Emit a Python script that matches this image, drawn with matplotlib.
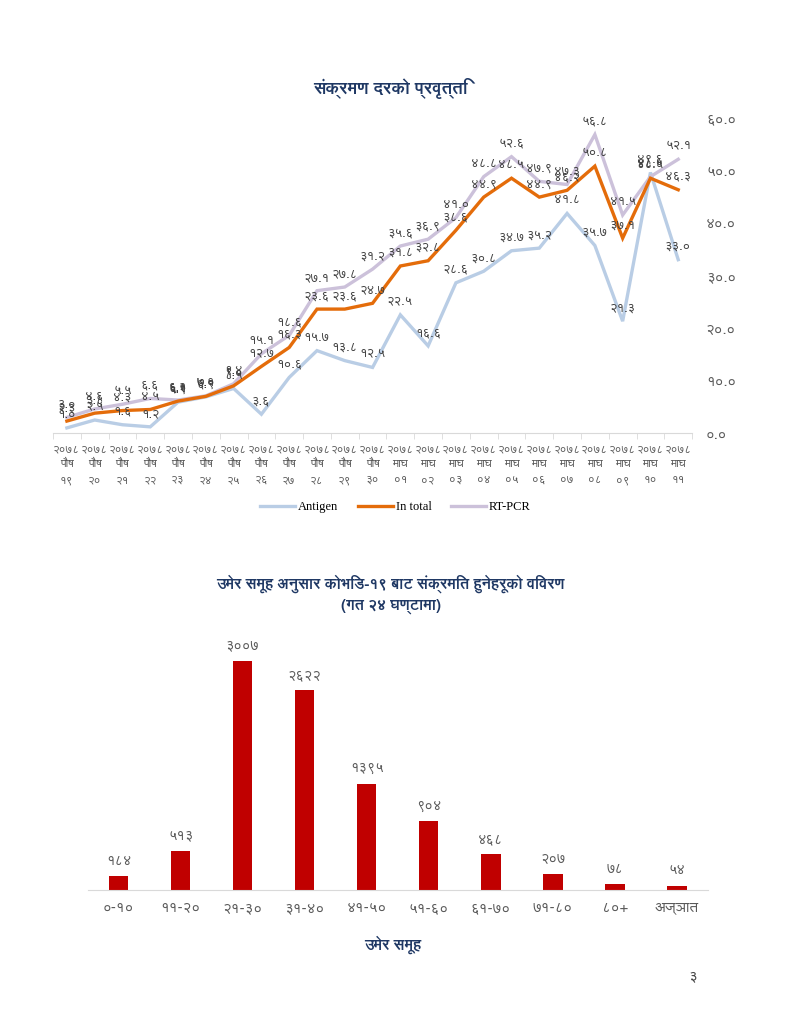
import matplotlib
matplotlib.use('Agg')
import matplotlib.pyplot as plt
from matplotlib.lines import Line2D
import numpy as np

# ---- data ----
months = ['पौष'] * 12 + ['माघ'] * 11
days = ['19', '20', '21', '22', '23', '24', '25', '26', '27', '28', '29', '30',
        '01', '02', '03', '04', '05', '06', '07', '08', '09', '10', '11']
year = '2078'

antigen = [1.0, 2.5, 1.6, 1.2, 5.9, 6.9, 8.5, 3.6, 10.6, 15.7, 13.8, 12.5,
           22.5, 16.6, 28.6, 30.8, 34.7, 35.2, 41.8, 35.7, 21.3, 49.6, 33.0]
in_total = [2.3, 3.8, 4.3, 4.5, 6.1, 7.0, 9.0, 12.7, 16.3, 23.6, 23.6, 24.7,
            31.8, 32.8, 38.6, 44.9, 48.5, 44.9, 46.2, 50.8, 37.1, 48.5, 46.3]
rt_pcr = [3.0, 4.6, 5.5, 6.6, 6.3, 7.1, 9.4, 15.1, 18.6, 27.1, 27.8, 31.2,
          35.6, 36.9, 41.0, 48.8, 52.6, 47.9, 47.3, 56.8, 41.5, 48.8, 52.1]

age_groups = ['0-10', '11-20', '21-30', '31-40', '41-50', '51-60', '61-70',
              '71-80', '80+', 'अज्ञात']
cases = [184, 513, 3007, 2622, 1395, 904, 468, 207, 78, 54]

title1 = 'संक्रमण दरको प्रवृत्ति'
title2 = 'उमेर समूह अनुसार कोभिड-१९ बाट संक्रमित हुनेहरूको विवरण\n(गत २४ घण्टामा)'
xlabel2 = 'उमेर समूह'

plt.rcParams['font.family'] = ['FreeSans', 'DejaVu Sans']

to_np = str.maketrans('0123456789', '०१२३४५६७८९')
def np_num(s):
    return str(s).translate(to_np)

navy = '#1F3864'
grey = '#595959'

fig = plt.figure(figsize=(7.91, 10.24), dpi=100)

# ---- line chart ----
ax1 = fig.add_axes([0.067, 0.577, 0.808, 0.308])
x = np.arange(len(days))
series = [('Antigen', antigen, '#B9CDE5'), ('In total', in_total, '#E46C0A'),
          ('RT-PCR', rt_pcr, '#CCC1DA')]
for name, vals, col in [series[0], series[2], series[1]]:
    ax1.plot(x, vals, color=col, linewidth=2.4, solid_joinstyle='miter')
for name, vals, col in series:
    for xi, v in zip(x, vals):
        ax1.annotate(np_num(f'{v:.1f}'), (xi, v), xytext=(0, 5),
                     textcoords='offset points', ha='center', va='bottom',
                     fontsize=9.5, color='#404040')

ax1.set_xlim(-0.5, len(days) - 0.5)
ax1.set_ylim(0, 60)
ax1.set_yticks(np.arange(0, 61, 10))
ax1.set_yticklabels([np_num(f'{v:.1f}') for v in np.arange(0, 61, 10)])
ax1.yaxis.tick_right()
ax1.tick_params(axis='y', length=0, pad=10, labelsize=11, labelcolor=grey)
ax1.set_xticks(x)
ax1.set_xticklabels([np_num(year) + '\n' + m + '\n' + np_num(d)
                     for m, d in zip(months, days)], linespacing=1.4)
ax1.tick_params(axis='x', length=0, pad=7, labelsize=8.5, labelcolor=grey)
ax1.set_xticks(np.arange(-0.5, len(days), 1), minor=True)
ax1.tick_params(axis='x', which='minor', length=4, color='#D9D9D9')
for s in ['top', 'right', 'left']:
    ax1.spines[s].set_visible(False)
ax1.spines['bottom'].set_color('#D9D9D9')

fig.text(0.494, 0.914, title1, ha='center', va='center', fontsize=12.5,
         fontweight='bold', color=navy)

handles = [Line2D([], [], color=c, linewidth=2.4) for _, _, c in series]
fig.legend(handles, [n for n, _, _ in series], loc='center',
           bbox_to_anchor=(0.5, 0.505), ncol=3, frameon=False,
           prop={'family': 'Liberation Serif', 'size': 9},
           handlelength=2.8, columnspacing=1.6, handletextpad=0.2)

# ---- bar chart ----
ax2 = fig.add_axes([0.111, 0.131, 0.784, 0.2603])
xb = np.arange(len(age_groups))
ax2.bar(xb, cases, width=0.31, color='#C00000')
for xi, v in zip(xb, cases):
    ax2.annotate(np_num(v), (xi, v), xytext=(0, 6), textcoords='offset points',
                 ha='center', va='bottom', fontsize=10.5, color=grey)
ax2.set_xlim(-0.5, len(age_groups) - 0.5)
ax2.set_ylim(0, 3500)
ax2.set_yticks([])
ax2.set_xticks(xb)
ax2.set_xticklabels([np_num(a) for a in age_groups])
ax2.tick_params(axis='x', length=0, pad=8, labelsize=11, labelcolor=grey)
for s in ['top', 'right', 'left']:
    ax2.spines[s].set_visible(False)
ax2.spines['bottom'].set_color('#D9D9D9')

fig.text(0.494, 0.42, title2, ha='center', va='center', fontsize=11,
         fontweight='bold', color=navy, linespacing=1.5)
fig.text(0.496, 0.077, xlabel2, ha='center', va='center', fontsize=11,
         fontweight='bold', color=navy)
fig.text(0.876, 0.047, np_num(3), ha='center', va='center', fontsize=11,
         color='#404040')

fig.savefig('out.png', dpi=100)
